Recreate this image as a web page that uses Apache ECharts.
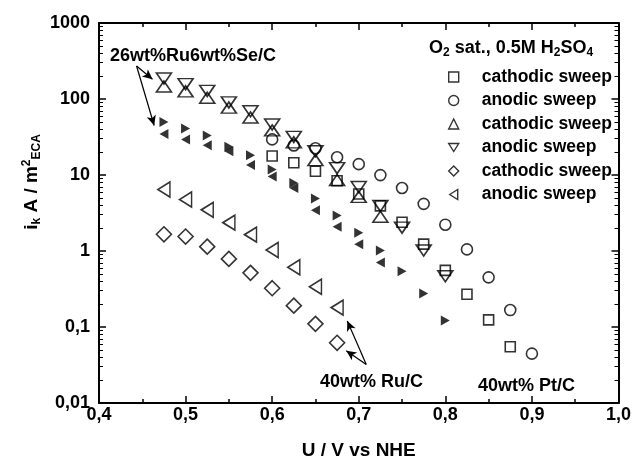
<!DOCTYPE html>
<html><head><meta charset="utf-8">
<script src="https://cdn.jsdelivr.net/npm/echarts@6/dist/echarts.min.js"></script>
<style>html,body{margin:0;padding:0;background:#fff}#c{width:634px;height:465px}</style>
</head><body><div id="c"></div>
<script>
// ---- data (U / V vs NHE, i_k in A/m2_ECA) ----
const xPtCath = [0.6,0.625,0.65,0.675,0.7,0.725,0.75,0.775,0.8,0.825,0.85,0.875];
const yPtCath = [17.8,14.5,11.2,8.4,5.63,3.93,2.39,1.23,0.556,0.27,0.124,0.055];
const xPtAn = [0.6,0.625,0.65,0.675,0.7,0.725,0.75,0.775,0.8,0.825,0.85,0.875,0.9];
const yPtAn = [29.4,24.5,22.5,17.1,13.9,9.97,6.75,4.17,2.22,1.05,0.45,0.167,0.0446];
const xRuSeCath = [0.475,0.5,0.525,0.55,0.575,0.6,0.625,0.65,0.675,0.7,0.725];
const yRuSeCath = [146,126,104,77,57,38.6,26.9,15.7,8.58,5.15,2.82];
const xRuSeAn = [0.475,0.5,0.525,0.55,0.575,0.6,0.625,0.65,0.675,0.7,0.725,0.75,0.775,0.8];
const yRuSeAn = [186,157,128,90.3,68.9,46.2,31.7,20.5,12.3,6.95,3.93,2.03,1.015,0.465];
const xRuCath = [0.475,0.5,0.525,0.55,0.575,0.6,0.625,0.65,0.675];
const yRuCath = [1.66,1.55,1.14,0.787,0.516,0.324,0.191,0.11,0.062];
const xRuAn = [0.475,0.5,0.525,0.55,0.575,0.6,0.625,0.65,0.675];
const yRuAn = [6.45,4.77,3.48,2.36,1.64,1.03,0.61,0.339,0.18];
const xFilledR = [0.475,0.5,0.525,0.55,0.575,0.6,0.625,0.65,0.675,0.7,0.725,0.75,0.775,0.8];
const yFilledR = [49.8,41,33.2,23.5,18.2,11.8,7.84,4.92,2.93,1.74,1.015,0.54,0.275,0.122];
const xFilledL = [0.475,0.5,0.525,0.55,0.575,0.6,0.625,0.65,0.675,0.7,0.725];
const yFilledL = [34.7,29.4,24.6,20.5,13.5,9.53,6.75,3.43,2.09,1.23,0.708];
const legendNames = ['cathodic sweep|1','anodic sweep|1','cathodic sweep|2','anodic sweep|2','cathodic sweep|3','anodic sweep|3'];
// annotation arrows [from, to] in data coordinates
const arrows = [
  [[0.4434,272],[0.4618,182]],
  [[0.4434,272],[0.4637,44.8]],
  [[0.7087,0.032],[0.6868,0.12]],
  [[0.7087,0.032],[0.6856,0.0488]]
];

const FONT = 'Arial, "Liberation Sans", sans-serif';
const zip = (xs, ys) => xs.map((x, i) => [x, ys[i]]);
const open = {color: 'rgba(0,0,0,0)', borderColor: '#000', borderWidth: 1.6};
const filled = {color: '#000', borderWidth: 0};
const legendIcons = ['rect', 'circle', 'triangle', 'path://M0,0L20,0L10,16Z', 'diamond', 'path://M0,10L16,0L16,20Z'];

const chart = echarts.init(document.getElementById('c'), null, {renderer: 'canvas'});

const xAxisBase = {
  type: 'value', min: 0.4, max: 1.0, interval: 0.1,
  axisLine: {show: true, onZero: false, lineStyle: {color: '#000', width: 2}},
  axisTick: {show: true, inside: true, length: 7, lineStyle: {color: '#000', width: 1.5}},
  minorTick: {show: true, splitNumber: 2, length: 4, lineStyle: {color: '#000', width: 1.5}},
  splitLine: {show: false}
};
const yAxisBase = {
  type: 'log', logBase: 10, min: 0.01, max: 1000,
  axisLine: {show: true, onZero: false, lineStyle: {color: '#000', width: 2}},
  axisTick: {show: true, inside: true, length: 7, lineStyle: {color: '#000', width: 1.5}},
  minorTick: {show: true, splitNumber: 9, length: 4, lineStyle: {color: '#000', width: 1}},
  splitLine: {show: false}
};

chart.setOption({
  animation: false,
  backgroundColor: '#fff',
  grid: {left: 99, right: 14, top: 23, bottom: 58, containLabel: false},
  xAxis: [
    Object.assign({}, xAxisBase, {
      position: 'bottom',
      name: 'U / V vs NHE', nameLocation: 'middle', nameGap: 38,
      nameTextStyle: {fontFamily: FONT, fontSize: 19, fontWeight: 'bold', color: '#000'},
      axisLabel: {show: true, margin: 3, fontFamily: FONT, fontSize: 18, fontWeight: 'bold', color: '#000',
        formatter: v => v.toFixed(1).replace('.', ',')}
    }),
    Object.assign({}, xAxisBase, {position: 'top', axisLabel: {show: false}})
  ],
  yAxis: [
    Object.assign({}, yAxisBase, {
      position: 'left',
      axisLabel: {show: true, margin: 9, fontFamily: FONT, fontSize: 18, fontWeight: 'bold', color: '#000',
        formatter: v => String(v).replace('.', ',')}
    }),
    Object.assign({}, yAxisBase, {position: 'right', axisLabel: {show: false}})
  ],
  legend: {
    orient: 'vertical', left: 443, top: 63,
    itemWidth: 10, itemHeight: 10, itemGap: 5.5,
    selectedMode: false,
    itemStyle: {color: 'rgba(0,0,0,0)', borderColor: '#000', borderWidth: 1.4},
    data: legendNames.map((n, i) => ({name: n, icon: legendIcons[i]})),
    formatter: n => n.split('|')[0],
    textStyle: {fontFamily: FONT, fontSize: 17.5, fontWeight: 'bold', color: '#000', lineHeight: 17, padding: [0, 0, 0, 18]}
  },
  graphic: [
    {type: 'text', left: 429, top: 39, silent: true, style: {
      text: '{a|O}{b|2}{a| sat., 0.5M H}{b|2}{a|SO}{b|4}', fill: '#000',
      rich: {
        a: {fontFamily: FONT, fontSize: 18, fontWeight: 'bold', fill: '#000'},
        b: {fontFamily: FONT, fontSize: 12, fontWeight: 'bold', fill: '#000', padding: [10, 0, 0, 0]}
      }}},
    {type: 'text', x: 32, y: 182, rotation: Math.PI / 2, silent: true, style: {
      text: '{a|i}{b|k}{a| A / m}{c|2}{b|ECA}', align: 'center', verticalAlign: 'middle', fill: '#000',
      rich: {
        a: {fontFamily: FONT, fontSize: 19, fontWeight: 'bold', fill: '#000'},
        b: {fontFamily: FONT, fontSize: 12, fontWeight: 'bold', fill: '#000', padding: [10, 0, 0, 0]},
        c: {fontFamily: FONT, fontSize: 12, fontWeight: 'bold', fill: '#000', padding: [0, 0, 10, 0]}
      }}},
    {type: 'text', left: 110, top: 47, silent: true, style: {text: '26wt%Ru6wt%Se/C', fontFamily: FONT, fontSize: 18, fontWeight: 'bold', fill: '#000'}},
    {type: 'text', left: 320, top: 373, silent: true, style: {text: '40wt% Ru/C', fontFamily: FONT, fontSize: 18, fontWeight: 'bold', fill: '#000'}},
    {type: 'text', left: 478, top: 377, silent: true, style: {text: '40wt% Pt/C', fontFamily: FONT, fontSize: 18, fontWeight: 'bold', fill: '#000'}}
  ],
  series: [
    {name: legendNames[0], type: 'scatter', symbol: 'rect', symbolSize: 10, itemStyle: open, data: zip(xPtCath, yPtCath)},
    {name: legendNames[1], type: 'scatter', symbol: 'circle', symbolSize: 11, itemStyle: open, data: zip(xPtAn, yPtAn)},
    {name: legendNames[2], type: 'scatter', symbol: 'triangle', symbolSize: [15, 11], itemStyle: open, data: zip(xRuSeCath, yRuSeCath)},
    {name: legendNames[3], type: 'scatter', symbol: 'triangle', symbolRotate: 180, symbolSize: [15, 11], itemStyle: open, data: zip(xRuSeAn, yRuSeAn)},
    {name: legendNames[4], type: 'scatter', symbol: 'diamond', symbolSize: 15, itemStyle: open, data: zip(xRuCath, yRuCath)},
    {name: legendNames[5], type: 'scatter', symbol: 'triangle', symbolRotate: 90, symbolSize: [15, 12], itemStyle: open, data: zip(xRuAn, yRuAn)},
    {name: 'filled right', type: 'scatter', symbol: 'triangle', symbolRotate: -90, symbolSize: [10, 9], itemStyle: filled, data: zip(xFilledR, yFilledR),
      markLine: {silent: true, symbol: ['none', 'arrow'], symbolSize: [7, 10],
        lineStyle: {color: '#000', width: 1.2, type: 'solid'}, label: {show: false},
        data: arrows.map(a => [{coord: a[0]}, {coord: a[1]}])}},
    {name: 'filled left', type: 'scatter', symbol: 'triangle', symbolRotate: 90, symbolSize: [10, 9], itemStyle: filled, data: zip(xFilledL, yFilledL)}
  ]
});
</script></body></html>
